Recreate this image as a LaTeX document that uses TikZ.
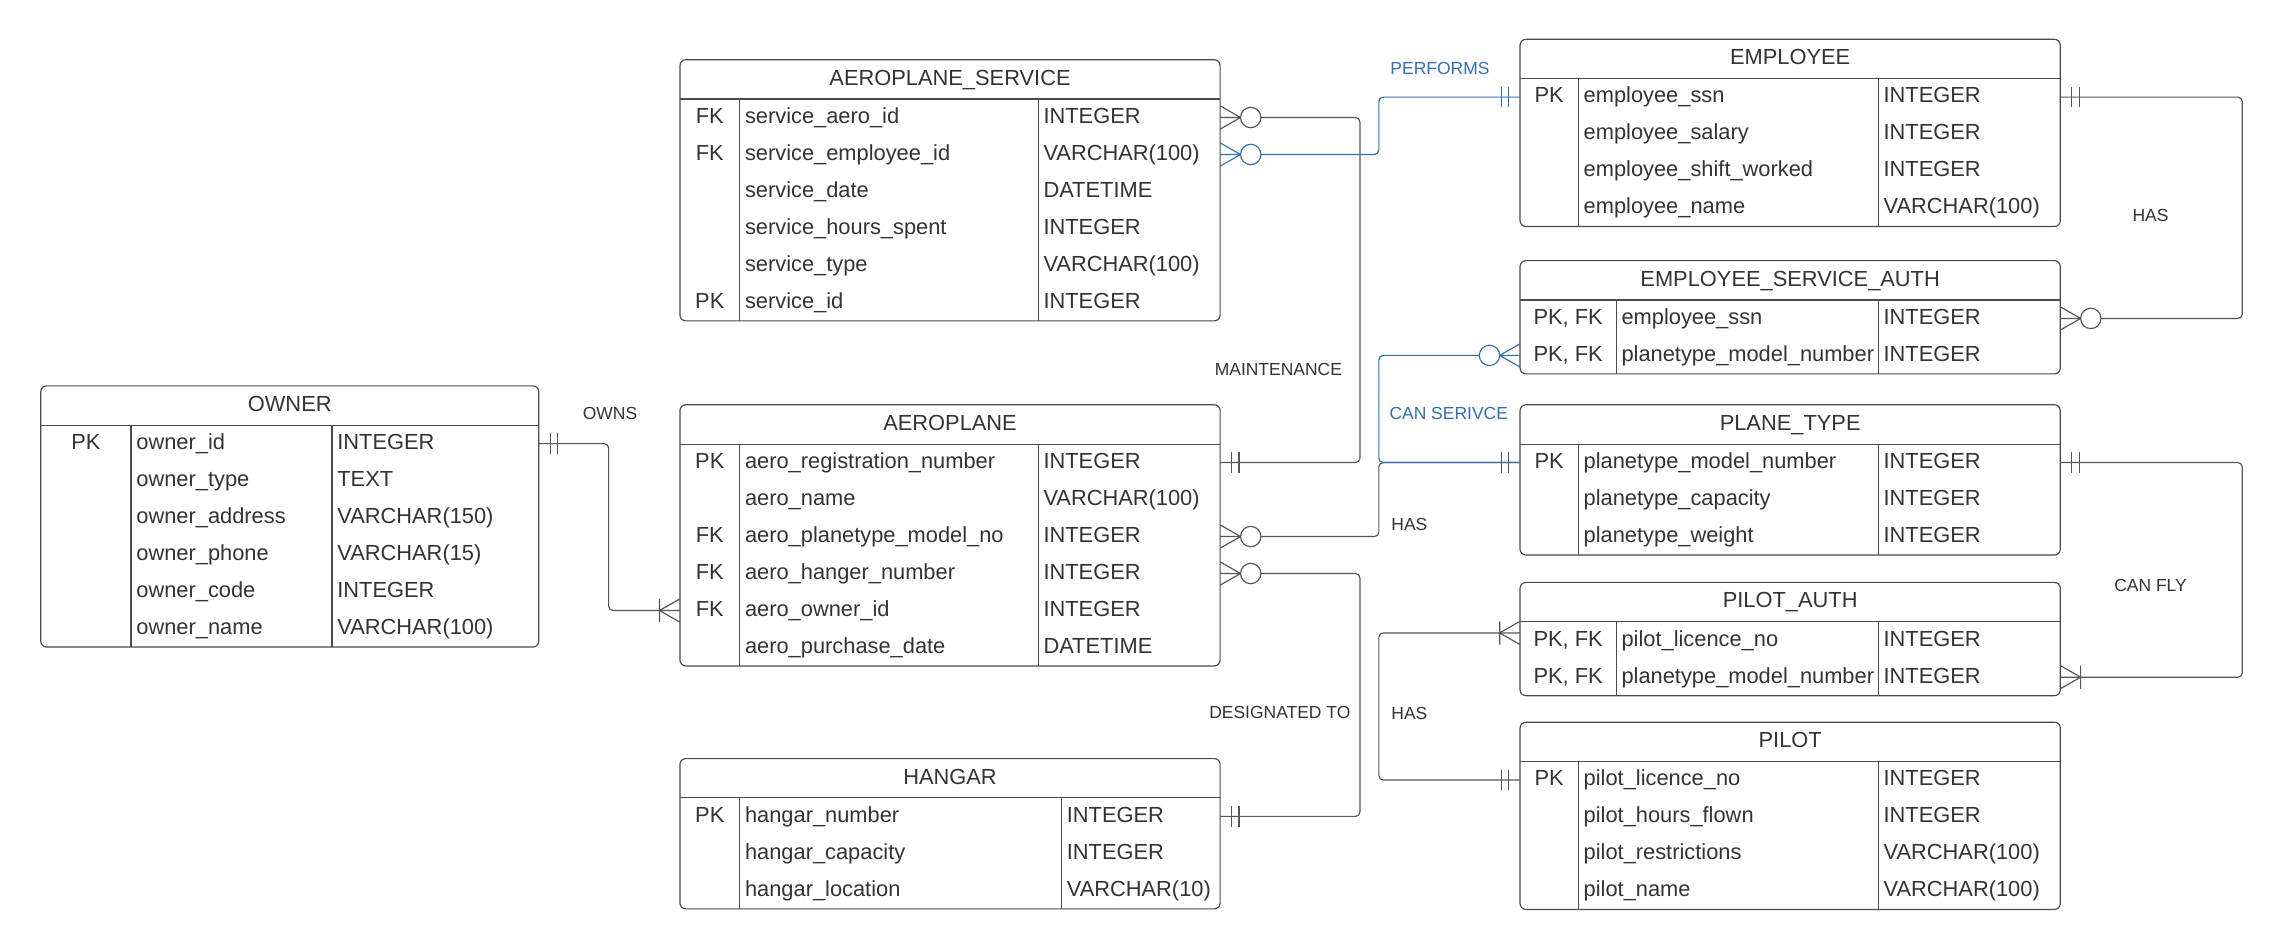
\documentclass[tikz,border=0pt]{standalone}
\usepackage{fontspec}
\setmainfont{Liberation Sans}
\usetikzlibrary{calc}
\definecolor{ctext}{HTML}{333333}
\definecolor{cline}{HTML}{4A4A4A}
\definecolor{cconn}{HTML}{555555}
\definecolor{cblue}{HTML}{2C6FC0}
\tikzset{
 tbox/.style={draw=cline, line width=0.8pt, rounded corners=4pt, inner sep=0pt, outer sep=0pt, anchor=north west},
 tline/.style={draw=cline, line width=0.8pt},
 celltext/.style={text=ctext, font=\fontsize{15}{18}\selectfont, inner sep=0pt, text height=11pt, text depth=3pt},
 lbl/.style={text=ctext, font=\fontsize{12}{14}\selectfont, inner sep=0pt},
 blbl/.style={lbl, text=cblue},
 conn/.style={draw=cconn, line width=0.8pt, rounded corners=3pt},
 bconn/.style={draw=cblue, line width=0.8pt, rounded corners=3pt},
 onemand/.pic={\draw[line width=0.8pt] (8,-7) -- (8,7) (13,-7) -- (13,7);},
 zeromany/.pic={\draw[line width=0.8pt] (0,-8) -- (14,0) -- (0,8); \draw[line width=0.8pt, fill=white] (21,0) circle (7pt);},
 onemany/.pic={\draw[line width=0.8pt] (0,-8) -- (14,0) -- (0,8) (14,-8) -- (14,8);},
}
\newcommand\ertable[9]{%
 \pgfmathsetmacro\tabw{#3-#2}%
 \pgfmathsetmacro\tabh{27+#8*25.4}%
 \pgfmathsetmacro\tabb{#4+\tabh}%
 \node[tbox, minimum width=\tabw pt, minimum height=\tabh pt] (#1) at (#2,#4) {};
 \draw[tline] (#2,{#4+27}) -- (#3,{#4+27});
 \draw[tline] (#6,{#4+27}) -- (#6,\tabb);
 \draw[tline] (#7,{#4+27}) -- (#7,\tabb);
 \node[celltext] (#1-title) at ({(#2+#3)/2},{#4+13.5}) {#5};
 \foreach \ka/\na/\ty [count=\i] in {#9} {
   \pgfmathsetmacro\yy{#4+27+(\i-0.5)*25.4}
   \node[celltext] (#1-k\i) at ({(#2+#6)/2},\yy) {\ka};
   \node[celltext, anchor=west] (#1-\i) at ({#6+3.5},\yy) {\na};
   \node[celltext, anchor=west] (#1-t\i) at ({#7+3.5},\yy) {\ty};
 }%
}
\begin{document}
\begin{tikzpicture}[x=1pt,y=-1pt]
\useasboundingbox (0,0) rectangle (1568,653);
\fill[white] (0,0) rectangle (1568,653);

\ertable{owner}{28}{370}{265}{OWNER}{90}{228}{6}{PK/owner\_id/INTEGER, {}/owner\_type/TEXT, {}/owner\_address/VARCHAR(150), {}/owner\_phone/VARCHAR(15), {}/owner\_code/INTEGER, {}/owner\_name/VARCHAR(100)}
\ertable{as}{467}{838}{41}{AEROPLANE\_SERVICE}{508}{713}{6}{FK/service\_aero\_id/INTEGER, FK/service\_employee\_id/VARCHAR(100), {}/service\_date/DATETIME, {}/service\_hours\_spent/INTEGER, {}/service\_type/VARCHAR(100), PK/service\_id/INTEGER}
\ertable{ap}{467}{838}{278}{AEROPLANE}{508}{713}{6}{PK/aero\_registration\_number/INTEGER, {}/aero\_name/VARCHAR(100), FK/aero\_planetype\_model\_no/INTEGER, FK/aero\_hanger\_number/INTEGER, FK/aero\_owner\_id/INTEGER, {}/aero\_purchase\_date/DATETIME}
\ertable{hg}{467}{838}{521}{HANGAR}{508}{729}{3}{PK/hangar\_number/INTEGER, {}/hangar\_capacity/INTEGER, {}/hangar\_location/VARCHAR(10)}
\ertable{em}{1044}{1415}{27}{EMPLOYEE}{1084}{1290}{4}{PK/employee\_ssn/INTEGER, {}/employee\_salary/INTEGER, {}/employee\_shift\_worked/INTEGER, {}/employee\_name/VARCHAR(100)}
\ertable{esa}{1044}{1415}{179}{EMPLOYEE\_SERVICE\_AUTH}{1110}{1290}{2}{{PK, FK}/employee\_ssn/INTEGER, {PK, FK}/planetype\_model\_number/INTEGER}
\ertable{pt}{1044}{1415}{278}{PLANE\_TYPE}{1084}{1290}{3}{PK/planetype\_model\_number/INTEGER, {}/planetype\_capacity/INTEGER, {}/planetype\_weight/INTEGER}
\ertable{pa}{1044}{1415}{400}{PILOT\_AUTH}{1110}{1290}{2}{{PK, FK}/pilot\_licence\_no/INTEGER, {PK, FK}/planetype\_model\_number/INTEGER}
\ertable{pl}{1044}{1415}{496}{PILOT}{1084}{1290}{4}{PK/pilot\_licence\_no/INTEGER, {}/pilot\_hours\_flown/INTEGER, {}/pilot\_restrictions/VARCHAR(100), {}/pilot\_name/VARCHAR(100)}

\coordinate (vA) at (418,0);
\coordinate (vB) at (934,0);
\coordinate (vC) at (947,0);
\coordinate (vD) at (1540,0);
\coordinate (paIn) at ($(pa.west |- pa-1)+(0,-5)$);

% OWNS
\draw[conn] (owner.east |- owner-1) -- (vA |- owner-1) -- (vA |- ap-5) -- (ap.west |- ap-5);
\pic[color=cconn] at (owner.east |- owner-1) {onemand};
\pic[color=cconn, xscale=-1] at (ap.west |- ap-5) {onemany};
% MAINTENANCE
\draw[conn] (as.east |- as-1) -- (vB |- as-1) -- (vB |- ap-1) -- (ap.east |- ap-1);
\pic[color=cconn] at (as.east |- as-1) {zeromany};
\pic[color=cconn] at (ap.east |- ap-1) {onemand};
% DESIGNATED TO
\draw[conn] (ap.east |- ap-4) -- (vB |- ap-4) -- (vB |- hg-1) -- (hg.east |- hg-1);
\pic[color=cconn] at (ap.east |- ap-4) {zeromany};
\pic[color=cconn] at (hg.east |- hg-1) {onemand};
% HAS aeroplane - plane type
\draw[conn] (ap.east |- ap-3) -- (vC |- ap-3) -- (vC |- pt-1) -- (pt.west |- pt-1);
\pic[color=cconn] at (ap.east |- ap-3) {zeromany};
% PERFORMS
\draw[bconn] (as.east |- as-2) -- (vC |- as-2) -- (vC |- em-1) -- (em.west |- em-1);
\pic[color=cblue] at (as.east |- as-2) {zeromany};
\pic[color=cblue, xscale=-1] at (em.west |- em-1) {onemand};
% CAN SERIVCE
\draw[bconn] (esa.west |- esa-2) -- (vC |- esa-2) -- (vC |- pt-1) -- (pt.west |- pt-1);
\pic[color=cblue, xscale=-1] at (esa.west |- esa-2) {zeromany};
\pic[color=cconn, xscale=-1] at (pt.west |- pt-1) {onemand};
% HAS employee - esa
\draw[conn] (em.east |- em-1) -- (vD |- em-1) -- (vD |- esa-1) -- (esa.east |- esa-1);
\pic[color=cconn] at (em.east |- em-1) {onemand};
\pic[color=cconn] at (esa.east |- esa-1) {zeromany};
% CAN FLY
\draw[conn] (pt.east |- pt-1) -- (vD |- pt-1) -- (vD |- pa-2) -- (pa.east |- pa-2);
\pic[color=cconn] at (pt.east |- pt-1) {onemand};
\pic[color=cconn] at (pa.east |- pa-2) {onemany};
% HAS pilot_auth - pilot
\draw[conn] (paIn) -- (vC |- paIn) -- (vC |- pl-1) -- (pl.west |- pl-1);
\pic[color=cconn, xscale=-1] at (paIn) {onemany};
\pic[color=cconn, xscale=-1] at (pl.west |- pl-1) {onemand};

\node[lbl] (l-owns) at (419,284) {OWNS};
\node[lbl] (l-maint) at (878,254) {MAINTENANCE};
\node[blbl] (l-perf) at (989,47) {PERFORMS};
\node[lbl] (l-has1) at (1477,148) {HAS};
\node[blbl] (l-cans) at (995,284) {CAN SERIVCE};
\node[lbl] (l-has2) at (968,360) {HAS};
\node[lbl] (l-desig) at (879,489) {DESIGNATED TO};
\node[lbl] (l-has3) at (968,490) {HAS};
\node[lbl] (l-canfly) at (1477,402) {CAN FLY};
\end{tikzpicture}
\end{document}
